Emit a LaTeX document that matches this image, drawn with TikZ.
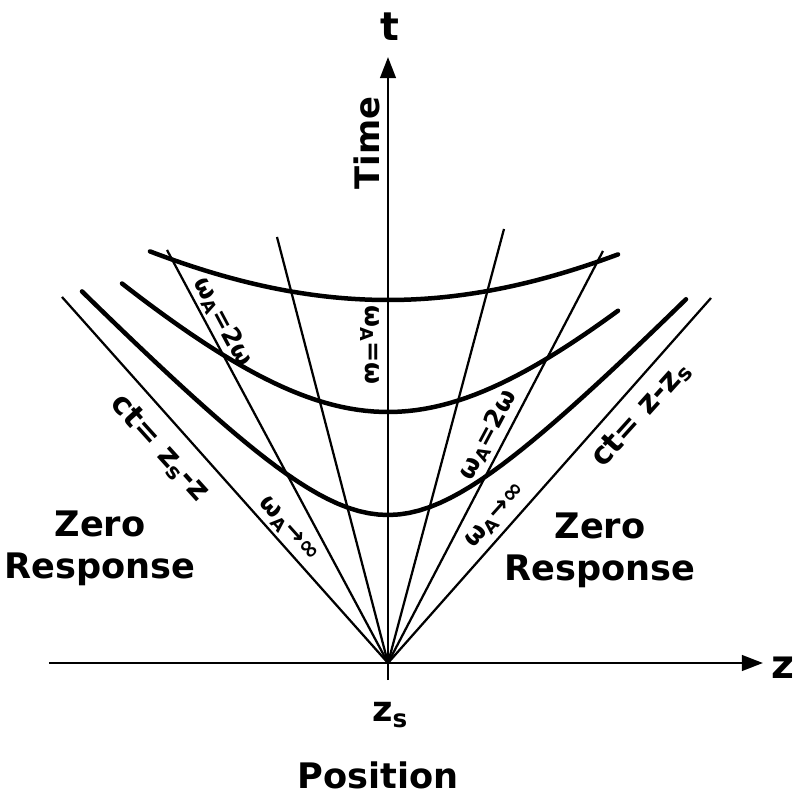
\documentclass[tikz,border=0pt]{standalone}
\usepackage{fontspec}
\setmainfont{DejaVu Sans}
\usetikzlibrary{arrows.meta}

\begin{document}
\begin{tikzpicture}[
    x=0.025cm, y=0.025cm,
    font=\bfseries,
    axis/.style={line width=2pt},
    ray/.style={line width=1.6pt},
    curve/.style={line width=3.2pt, line cap=round, samples=60},
    tip/.style={-{Triangle[length=15pt, width=11pt]}},
    big/.style={font=\bfseries\fontsize{25}{30}\selectfont},
    lbl/.style={font=\bfseries\fontsize{18}{20}\selectfont, inner sep=0pt},
    slope/.style={font=\bfseries\fontsize{22}{24}\selectfont, inner sep=0pt},
]
\useasboundingbox (-388,-139) rectangle (409,663);

% Quelle und Enden der Strahlen
\coordinate (zs) at (0,0);
\coordinate (coneL) at (-326,366);
\coordinate (coneR) at (323,365);
\coordinate (twoL) at (-221,413);
\coordinate (oneL) at (-111,426);
\coordinate (oneR) at (116,434);
\coordinate (twoR) at (215,412);
\coordinate (tlow) at (0,-17);
\coordinate (ttop) at (0,606);
\coordinate (zlow) at (-339,0);
\coordinate (ztop) at (375,0);

% Strahlen
\foreach \e in {coneL, twoL, oneL, oneR, twoR, coneR}
    \draw[ray] (zs) -- (\e);

% Kurven (Einheiten von 100)
\draw[curve, domain=-238:230] plot (\x, {33+100*sqrt(3.3^2+(0.0078*\x)^2)});
\draw[curve, domain=-266:230] plot (\x, {51+100*sqrt(2.0^2+(0.0098*\x)^2)});
\draw[curve, domain=-306:298] plot (\x, {33+100*sqrt(1.15^2+(0.0104*\x)^2)});

% Achsen
\draw[axis, tip] (tlow) -- (ttop);
\draw[axis, tip] (zlow) -- (ztop);

% Achsenbeschriftung
\node[font=\bfseries\fontsize{28}{30}\selectfont] (tlab) at (2,636) {t};
\node[font=\bfseries\fontsize{24}{26}\selectfont, rotate=90] (time) at (-21,520) {Time};
\node[font=\bfseries\fontsize{28}{30}\selectfont] (zlab) at (395,-5) {z};
\node[big] (zslab) at (2,-52) {z\textsubscript{s}};
\node[big] (pos) at (-10,-112) {Position};

% Bereiche
\node[big, align=center] (zeroL) at (-288,115) {Zero\\Response};
\node[big, align=center] (zeroR) at (212,113) {Zero\\Response};

% Beschriftung der Linien
\node[slope, rotate=-48] (ctL) at (-228,215) {ct= z\textsubscript{s}-z};
\node[slope, rotate=48] (ctR) at (253,249) {ct= z-z\textsubscript{s}};
\node[lbl, rotate=-62] (wL) at (-165,341) {ω\textsubscript{A}=2ω};
\node[lbl, rotate=-90] (w0) at (-18,318) {ω\textsubscript{A}=ω};
\node[lbl, rotate=62] (wR) at (100,228) {ω\textsubscript{A}=2ω};
\node[lbl, rotate=-48] (infL) at (-100,133) {ω\textsubscript{A}→∞};
\node[lbl, rotate=48] (infR) at (108,147) {ω\textsubscript{A}→∞};

\end{tikzpicture}
\end{document}
